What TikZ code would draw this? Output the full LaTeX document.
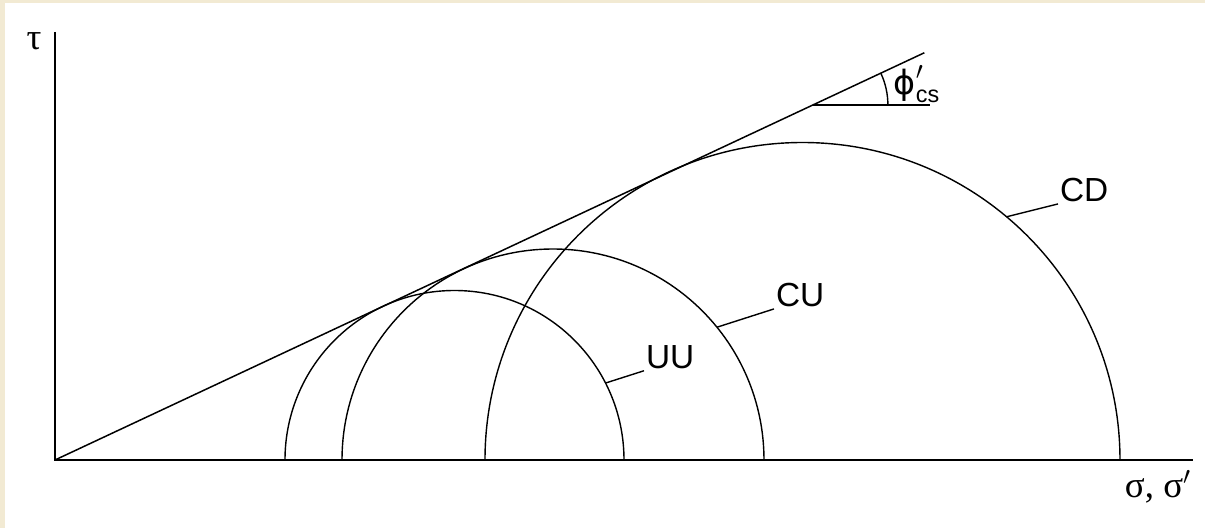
\documentclass[tikz,border=0pt]{standalone}
\usepackage{amsmath}
\usepackage{fontspec}
\setmainfont{Liberation Sans}
\newfontfamily\greekserif{Liberation Serif}
\newfontfamily\phifont{DejaVu Sans}
\usetikzlibrary{positioning, calc}
\definecolor{pageedge}{HTML}{F2EAD3}
\tikzstyle{axis} = [line width=1.4pt]

\begin{document}
\begin{tikzpicture}[
  x=0.02cm, y=0.02cm,
  every node/.style={font=\fontsize{19}{22}\selectfont, inner sep=1pt},
  mohr/.style={line width=0.8pt},
  envelope/.style={line width=0.85pt},
  leader/.style={line width=0.8pt},
  lbl/.style={anchor=west},
  grk/.style={font=\fontsize{21}{24}\selectfont\greekserif}
]

% page with its beige edge
\fill[pageedge] (-55,-68) rectangle (1150,460);
\fill[white] (-50,-68) rectangle (1150,457);
\useasboundingbox (-55,-68) rectangle (1150,460);

% axes
\coordinate (O) at (0,0);
\coordinate (tauEnd) at (0,428);
\coordinate (sigEnd) at (1138,0);
\draw[axis] (tauEnd) -- (O) -- (sigEnd);
\node[grk] (tau) at (-21,419) {τ};
\node[grk] (sig) at (1103,-27) {σ, σ$'$};

% failure envelope and its angle
\coordinate (fEnd) at (25.1:960);
\draw[envelope] (O) -- (fEnd);
\coordinate (fm) at (757.9,355);
\coordinate (fh) at (875,355);
\draw[mohr] (fm) -- (fh);
\draw[mohr] ($(fm)+(75,0)$) arc[start angle=0, end angle=25.1, radius=75];
\node (phi) at (862,376) {$\text{\phifont ϕ}'_{\text{cs}}$};

% Mohr circles (UU, CU, CD)
\coordinate (uuC) at (399.5,0);
\coordinate (cuC) at (498,0);
\coordinate (cdC) at (747.5,0);
\draw[mohr] ($(uuC)+(169.5,0)$) arc[start angle=0, end angle=180, radius=169.5];
\draw[mohr] ($(cuC)+(211,0)$) arc[start angle=0, end angle=180, radius=211];
\draw[mohr] ($(cdC)+(317.5,0)$) arc[start angle=0, end angle=180, radius=317.5];

% labels with leaders
\coordinate (uuP) at ($(uuC)+(27:169.5)$);
\coordinate (cuP) at ($(cuC)+(39:211)$);
\coordinate (cdP) at ($(cdC)+(50:317.5)$);
\node[lbl] (uu) at (589,103) {UU};
\node[lbl] (cu) at (719,165) {CU};
\node[lbl] (cd) at (1003,270) {CD};
\draw[leader] (uuP) -- (uu.south west);
\draw[leader] (cuP) -- (cu.south west);
\draw[leader] (cdP) -- (cd.south west);

\end{tikzpicture}
\end{document}
